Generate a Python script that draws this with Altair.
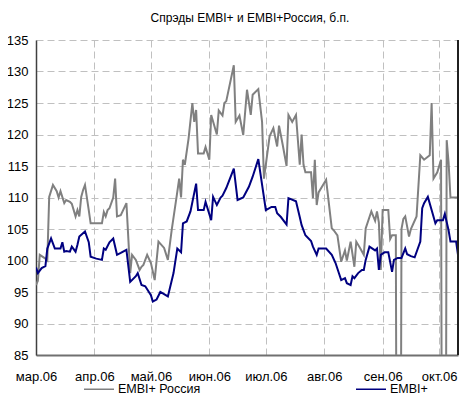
import altair as alt
import pandas as pd

# Day offsets from 1 March 2006 and values (b.p.)
russia_days = [0, 1, 2, 5, 6, 7, 9, 11, 12, 13, 15, 16, 18, 19, 21, 22, 23, 24, 25, 26,
               28, 29, 32, 35, 36, 37, 38, 39, 41, 42, 43, 45, 48, 50, 51, 53, 55, 56, 57, 59,
               61, 63, 65, 68, 70, 72, 75, 76, 77, 78, 79, 81, 83, 84, 85, 86, 89, 90, 92, 93,
               96, 97, 99, 100, 101, 105, 106, 108, 110, 112, 114, 115, 118, 120, 121, 124, 126, 128, 129, 131,
               133, 134, 136, 138, 140, 141, 142, 143, 146, 147, 148, 149, 150, 154, 157, 158, 160, 162, 164, 165,
               167, 169, 170, 172, 174, 175, 178, 180, 181, 182, 183, 184, 187, 188, 189, 191, 192, 193, 194, 195,
               196, 198, 199, 202, 204, 206, 209, 210, 211, 213, 215, 216, 217, 218, 219, 220, 222, 224]
russia_vals = [96.1, 96.8, 100.9, 100.3, 100.0, 110.1, 112.0, 111.0, 110.0, 111.0, 109.1, 109.6, 109.3, 109.0, 107.0, 108.0, 107.0, 110.1, 111.2, 112.0,
               108.0, 105.9, 105.9, 105.9, 107.7, 107.0, 108.0, 108.3, 110.0, 113.0, 107.0, 107.2, 109.1, 98.0, 100.9, 100.1, 98.5, 99.0, 99.3, 100.9,
               99.6, 96.9, 103.0, 102.0, 100.1, 104.8, 110.9, 113.0, 110.0, 116.0, 115.2, 119.4, 125.0, 122.0, 123.9, 117.0, 117.0, 118.0, 116.0, 123.1,
               120.0, 123.8, 123.0, 125.0, 125.3, 131.0, 122.0, 123.0, 119.9, 127.1, 123.1, 126.3, 127.2, 122.0, 113.0, 119.7, 121.0, 118.1, 121.4, 118.3,
               115.0, 123.1, 122.0, 123.1, 115.2, 120.0, 115.2, 114.0, 114.0, 109.9, 116.0, 108.8, 110.8, 112.8, 105.1, 104.8, 104.0, 99.8, 101.6, 100.0,
               103.0, 99.0, 103.0, 102.0, 100.9, 105.1, 107.8, 106.3, 107.8, 106.0, 98.5, 108.0, 108.0, 103.4, 104.0, 104.0, 0.0, 0.0, 105.0, 106.6,
               107.0, 103.8, 105.0, 107.0, 116.7, 116.0, 116.7, 125.0, 113.0, 114.0, 116.0, 0.0, 0.0, 119.1, 115.6, 110.0, 110.0, 110.0]

embi_days = [0, 1, 3, 5, 6, 8, 10, 13, 14, 15, 16, 18, 19, 21, 22, 23, 26, 28, 29, 32,
             35, 36, 37, 39, 41, 43, 45, 48, 50, 53, 54, 56, 58, 61, 62, 64, 66, 70, 73, 75,
             77, 78, 80, 82, 85, 86, 89, 90, 93, 94, 96, 98, 99, 101, 105, 107, 110, 113, 115, 118,
             122, 125, 127, 128, 130, 133, 134, 138, 140, 141, 143, 146, 147, 149, 150, 154, 157, 159, 162, 164,
             165, 167, 168, 169, 171, 173, 174, 175, 177, 180, 181, 182, 183, 185, 187, 189, 190, 192, 194, 196,
             197, 199, 201, 204, 205, 206, 208, 210, 212, 213, 216, 217, 219, 220, 223, 224]
embi_vals = [98.9, 98.0, 98.8, 99.1, 101.9, 103.5, 101.9, 101.9, 102.9, 101.4, 101.5, 101.4, 102.2, 101.4, 102.5, 103.8, 104.6, 102.9, 100.6, 100.3,
             100.1, 101.9, 101.7, 102.9, 103.5, 100.9, 101.2, 101.7, 96.6, 97.5, 98.0, 96.1, 95.9, 94.5, 93.5, 93.8, 95.0, 94.3, 98.0, 101.9,
             101.3, 105.9, 106.2, 107.8, 112.2, 108.0, 108.0, 109.3, 106.4, 110.1, 108.8, 110.0, 110.3, 111.5, 114.6, 109.6, 110.0, 111.7, 113.3, 116.1,
             108.0, 108.5, 108.5, 107.5, 106.9, 105.7, 109.9, 109.4, 106.9, 105.6, 104.0, 103.1, 102.2, 100.9, 101.9, 101.9, 100.9, 99.6, 96.9, 97.2,
             96.4, 96.1, 97.5, 97.2, 98.0, 98.5, 98.5, 100.1, 102.2, 101.6, 101.9, 98.5, 100.9, 101.3, 101.3, 98.2, 100.1, 100.4, 100.4, 101.9,
             101.0, 100.7, 100.5, 103.0, 108.3, 109.1, 110.1, 108.0, 105.9, 106.4, 106.4, 107.4, 104.8, 103.0, 103.0, 100.9]

series_names = ["EMBI+ Россия", "EMBI+"]
series_colors = ["#808080", "#000080"]
month_names = ["янв", "фев", "мар", "апр", "май", "июн", "июл", "авг", "сен", "окт", "ноя", "дек"]
y_ticks = [85, 90, 95, 100, 105, 110, 115, 120, 125, 130, 135]

start = pd.Timestamp("2006-03-01")
rows = []
for d, v in zip(russia_days, russia_vals):
    rows.append({"date": start + pd.Timedelta(days=d), "value": v, "series": series_names[0], "order": d})
for d, v in zip(embi_days, embi_vals):
    rows.append({"date": start + pd.Timedelta(days=d), "value": v, "series": series_names[1], "order": d})
df = pd.DataFrame(rows)

month_ticks = [alt.DateTime(year=2006, month=m, date=1) for m in range(3, 11)]
label_expr = "[" + ",".join("'%s'" % m for m in month_names) + "][month(datum.value)] + '.06'"

W, H = 422, 315
FONT = "Liberation Sans"

lines = alt.Chart(df).mark_line(strokeWidth=2, clip=True).encode(
    x=alt.X("date:T",
            scale=alt.Scale(domain=[alt.DateTime(year=2006, month=3, date=1),
                                    alt.DateTime(year=2006, month=10, date=11)]),
            axis=alt.Axis(values=month_ticks, labelExpr=label_expr, title=None,
                          grid=True, gridDash=[7, 4], gridColor="#c0c0c0", gridWidth=1,
                          ticks=False, labelPadding=15, labelFlush=False,
                          labelFontSize=13, labelFont=FONT, labelColor="#000000",
                          domainColor="#707070", domainWidth=2)),
    y=alt.Y("value:Q",
            scale=alt.Scale(domain=[85, 135], nice=False, zero=False),
            axis=alt.Axis(values=y_ticks, title=None, grid=True, gridDash=[7, 4],
                          gridColor="#c0c0c0", gridWidth=1, ticks=False, labelPadding=8,
                          labelFontSize=13, labelFont=FONT, labelColor="#000000",
                          domainColor="#404040", domainWidth=1.5)),
    color=alt.Color("series:N",
                    scale=alt.Scale(domain=series_names, range=series_colors),
                    legend=alt.Legend(title=None, orient="none", direction="horizontal",
                                      legendX=47, legendY=333, columnPadding=152,
                                      symbolType="stroke", symbolSize=900, symbolStrokeWidth=1.5,
                                      labelFontSize=12.5, labelFont=FONT, labelColor="#000000",
                                      labelOffset=3)),
    order="order:Q",
)

right_border = alt.Chart(df).mark_rule(color="#202020", strokeWidth=1.5).encode(
    x=alt.value(W), y=alt.value(0), y2=alt.value(H)
)

chart = alt.layer(lines, right_border).properties(
    width=W, height=H,
    title=alt.TitleParams("Спрэды EMBI+ и EMBI+Россия, б.п.", font=FONT, fontSize=12,
                          fontWeight="normal", color="#000000", offset=9, anchor="middle", dx=3),
    autosize=alt.AutoSizeParams(type="none"),
    padding={"left": 28, "top": 32, "right": 1, "bottom": 40},
).configure_view(stroke=None)

chart.save("out.html", embed_options={"renderer": "svg", "actions": False})
